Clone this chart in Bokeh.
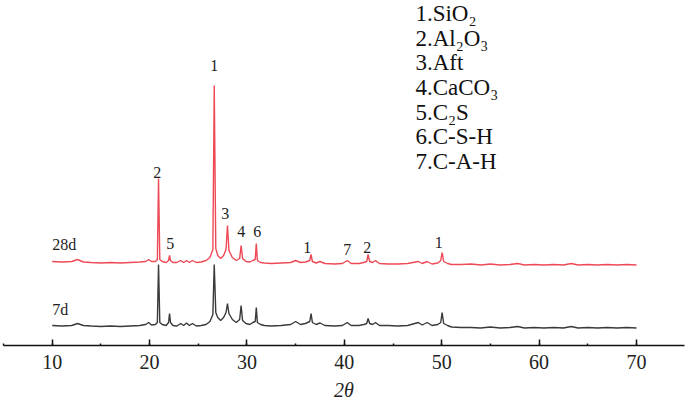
from bokeh.plotting import figure
from bokeh.models import Range1d, SingleIntervalTicker
from bokeh.core.properties import value
from bokeh.embed import file_html
from bokeh.resources import INLINE

# ---- data (2theta in degrees, intensity in arbitrary units) ----
two_theta = [10.0, 11.0, 12.0, 12.6, 13.2, 14.0, 15.0, 16.0, 17.0, 18.0, 19.0, 19.6, 19.9, 20.2,
             20.6, 20.8, 20.92, 21.05, 21.3, 21.7, 21.95, 22.05, 22.15, 22.4, 22.8, 23.2, 23.5,
             23.8, 24.1, 24.4, 24.8, 25.3, 25.8, 26.2, 26.5, 26.64, 26.8, 27.0, 27.3, 27.6,
             27.85, 28.0, 28.15, 28.5, 28.9, 29.25, 29.4, 29.55, 29.9, 30.3, 30.6, 30.85, 30.96,
             31.07, 31.4, 31.8, 32.5, 33.5, 34.5, 35.0, 35.5, 36.0, 36.45, 36.58, 36.72, 37.1,
             37.5, 38.0, 39.0, 39.8, 40.3, 40.7, 41.5, 42.0, 42.3, 42.44, 42.6, 42.9, 43.2, 43.6,
             44.5, 45.5, 46.5, 47.6, 48.0, 48.5, 49.0, 49.6, 49.9, 50.04, 50.2, 50.6, 51.0, 52.0,
             53.0, 54.0, 55.0, 56.0, 57.0, 57.8, 58.5, 59.5, 60.5, 61.5, 62.5, 63.3, 64.0, 65.0,
             66.0, 67.0, 68.0, 69.0, 70.0]

int_7d = [19, 18.5, 19, 21, 19, 18.5, 18, 18.5, 18, 18.5, 19, 20, 22, 19.5,
          20, 22, 80, 22, 20, 19, 22, 31, 22, 19, 18.5, 21, 19,
          21.5, 19, 21, 18.5, 19, 20, 23, 30, 80, 32, 27, 24, 27,
          32, 41, 31, 25, 22, 25, 39, 24, 21, 20, 22, 23, 37,
          22, 20, 19, 18.5, 19, 20, 23, 20, 21, 23, 31, 22, 20,
          21.5, 19, 18.5, 19, 22, 19, 19, 20, 21, 26, 21, 20, 22, 19,
          19, 18.5, 19, 22, 19.5, 22, 19, 20, 22, 32, 21, 19, 17.5, 17,
          17, 16.5, 17.5, 16.5, 17, 18, 16.5, 17, 16.5, 17, 16.5, 18, 16.5, 17,
          16.5, 17, 16.5, 17, 16.5]

int_28d = [83, 82.5, 83, 85, 82.5, 82, 81.5, 82, 81.5, 82, 82.5, 83, 85, 83,
           83, 85, 166, 85, 83, 82, 84, 89, 84, 82, 82, 84, 82,
           84, 82, 84, 82, 82.5, 84, 87, 95, 259, 96, 89, 86, 89,
           95, 119, 94, 87, 84, 86, 99, 86, 83, 82.5, 84, 85, 101,
           84, 82, 81.5, 81, 81.5, 82, 84, 82, 82.5, 84, 90, 83, 81.5,
           83, 81, 80.5, 81, 84, 81, 81, 82, 83, 90, 83, 82, 84, 81,
           80.5, 80.5, 81, 83, 81, 83, 80.5, 81.5, 84, 92, 83, 81, 80, 80,
           80.5, 79.5, 80.5, 79.5, 80, 81, 79.5, 80, 79.5, 80, 79.5, 81, 79.5, 80,
           79.5, 80, 79.5, 80, 79.5]

peak_labels = ["1", "2", "5", "3", "4", "6", "1", "7", "2", "1"]
peak_x = [26.64, 20.79, 22.12, 27.77, 29.42, 31.06, 36.2, 40.31, 42.36, 49.7]
peak_y = [279, 172, 101, 131, 113, 113, 97, 95, 97, 102]

series_names = ["28d", "7d"]
series_x = [10.0, 10.0]
series_y = [100, 35]

phase_lines = ["1.SiO\u2082", "2.Al\u2082O\u2083", "3.Aft", "4.CaCO\u2083",
               "5.C\u2082S", "6.C-S-H", "7.C-A-H"]
phase_x = [47.3] * 7
phase_y = [331, 306.3, 281.6, 257, 232.3, 207.6, 183]

tick_interval = 10
axis_title = "2\u03b8"

serif = "Liberation Serif"

p = figure(width=685, height=407, output_backend="svg", toolbar_location=None,
           x_range=Range1d(5.0, 74.93), y_range=Range1d(-1, 344),
           y_axis_type=None, min_border_left=3, min_border_right=1,
           min_border_top=0, min_border_bottom=62)
p.outline_line_color = None
p.xgrid.visible = False
p.ygrid.visible = False
p.background_fill_color = "white"

p.line(two_theta, int_7d, line_color="#3a3a3a", line_width=1.4)
p.line(two_theta, int_28d, line_color="#ee4a55", line_width=1.4)

p.text(x=peak_x, y=peak_y, text=peak_labels, text_font=value(serif),
       text_font_size="16px", text_align="center", text_baseline="middle",
       text_color="#1e1e1e")
p.text(x=series_x, y=series_y, text=series_names, text_font=value(serif),
       text_font_size="16px", text_align="left", text_baseline="middle",
       text_color="#1e1e1e")
p.text(x=phase_x, y=phase_y, text=phase_lines, text_font=value(serif),
       text_font_size="23px", text_align="left", text_baseline="middle",
       text_color="#111111")

ax = p.xaxis[0]
ax.ticker = SingleIntervalTicker(interval=tick_interval, num_minor_ticks=2)
ax.axis_line_color = "#111111"
ax.axis_line_width = 1.5
ax.major_tick_in = 6
ax.major_tick_out = 0
ax.minor_tick_in = 2
ax.minor_tick_out = 0
ax.major_tick_line_color = "#111111"
ax.major_tick_line_width = 1.5
ax.minor_tick_line_color = "#111111"
ax.minor_tick_line_width = 1.5
ax.major_label_text_font = serif
ax.major_label_text_font_size = "20px"
ax.major_label_text_color = "#222222"
ax.major_label_standoff = 9
ax.axis_label = axis_title
ax.axis_label_text_font = serif
ax.axis_label_text_font_size = "20px"
ax.axis_label_text_font_style = "italic"
ax.axis_label_text_color = "#222222"
ax.axis_label_standoff = 7

open("out.html", "w").write(file_html(p, INLINE))
